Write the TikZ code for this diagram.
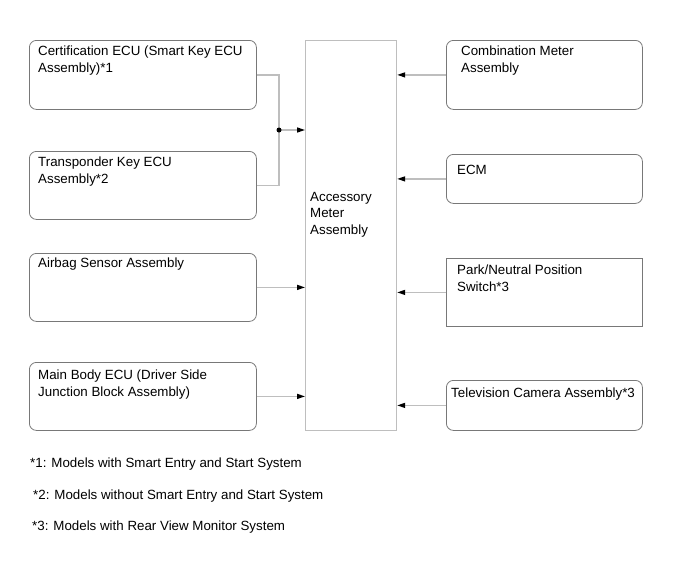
\documentclass[tikz,border=0pt]{standalone}
\usepackage{fontspec}
\setmainfont{Liberation Sans}
\usetikzlibrary{arrows.meta}
\definecolor{boxgray}{RGB}{120,120,120}
\definecolor{linegray}{RGB}{190,190,190}
\tikzset{
	unit/.style={
			draw=boxgray, line width=0.8pt, rounded corners=7pt, anchor=north west,
			minimum width=227pt, inner sep=0pt
		},
	txt/.style n args={3}{
			label={[anchor=north west, align=left, inner sep=0pt, xshift=#1, yshift=#2,
					font=\fontsize{13.33}{16.5}\selectfont]north west:{#3}}
		},
	sig/.style={draw=linegray, line width=1.4pt,
			-{Triangle[color=black, length=8pt, width=5pt]}},
	note/.style={anchor=north west, inner sep=0pt, font=\fontsize{13.33}{16.5}\selectfont}
}

\begin{document}
\begin{tikzpicture}[x=1pt, y=-1pt]
        \useasboundingbox (0, 0) rectangle (690, 562);

        \node[draw=linegray, line width=1.2pt, anchor=north west, minimum width=91pt, minimum height=390pt, inner sep=0pt,
            txt={5pt}{-152pt}{Accessory\\Meter\\Assembly}] (AM) at (305, 40) {};

        \node[unit, minimum height=69pt, txt={9pt}{-6pt}{Certification ECU (Smart Key ECU\\Assembly)*1}] (CE) at (29, 40) {};
        \node[unit, minimum height=68pt, txt={9pt}{-6pt}{Transponder Key ECU\\Assembly*2}] (TK) at (29, 151) {};
        \node[unit, minimum height=68pt, txt={9pt}{-5pt}{Airbag Sensor Assembly}] (AS) at (29, 253) {};
        \node[unit, minimum height=68pt, txt={9pt}{-8pt}{Main Body ECU (Driver Side\\Junction Block Assembly)}] (MB) at (29, 362) {};

        \node[unit, minimum width=196pt, minimum height=69pt, txt={15pt}{-6pt}{Combination Meter\\Assembly}] (CM) at (446, 40) {};
        \node[unit, minimum width=196pt, minimum height=49pt, txt={11pt}{-11pt}{ECM}] (EC) at (446, 154) {};
        \node[unit, rounded corners=0pt, minimum width=196pt, minimum height=68pt, txt={11pt}{-7pt}{Park/Neutral Position\\Switch*3}] (PN) at (446, 258) {};
        \node[unit, minimum width=196pt, minimum height=50pt, txt={5pt}{-8pt}{Television Camera Assembly*3}] (TV) at (446, 380) {};

        \coordinate (J) at (279, 130);
        \draw[draw=linegray, line width=1.4pt] (CE.east) -| (J) |- (TK.east);
        \draw[sig] (J) -- (J -| AM.west);
        \fill (J) circle (2.5pt);

        \draw[sig] (AS.east) -- (AS.east -| AM.west);
        \draw[sig] (MB.east) -- (MB.east -| AM.west);
        \draw[sig] (CM.west) -- (CM.west -| AM.east);
        \draw[sig] (EC.west) -- (EC.west -| AM.east);
        \draw[sig] (PN.west) -- (PN.west -| AM.east);
        \draw[sig] (TV.west) -- (TV.west -| AM.east);

        \node[note] (N1) at (30, 458) {*1: Models with Smart Entry and Start System};
        \node[note] (N2) at (33, 490) {*2: Models without Smart Entry and Start System};
        \node[note] (N3) at (32, 521) {*3: Models with Rear View Monitor System};
    \end{tikzpicture}
\end{document}
